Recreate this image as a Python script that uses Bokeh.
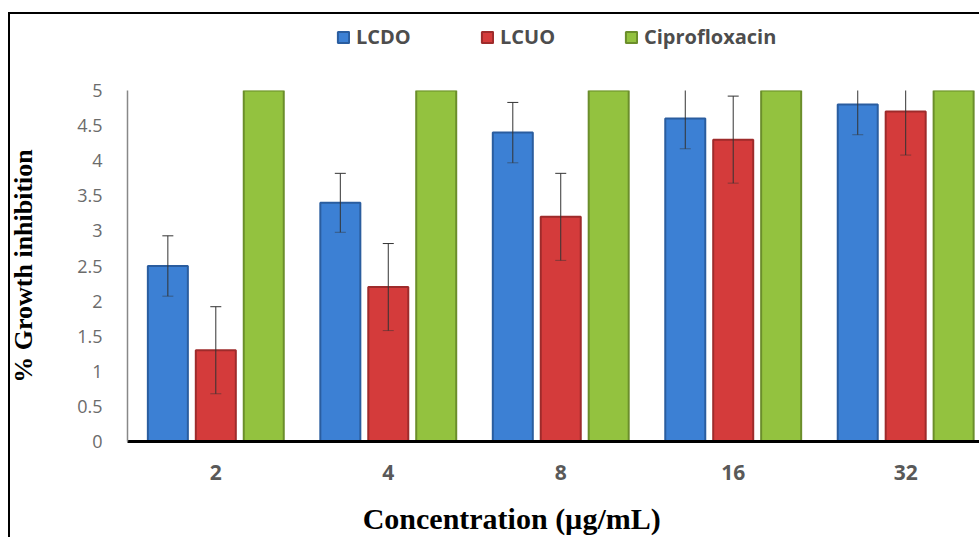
import numpy as np
from bokeh.plotting import figure
from bokeh.layouts import column
from bokeh.models import (ColumnDataSource, Range1d, FixedTicker, Legend, LegendItem,
                          Label, InlineStyleSheet, NumeralTickFormatter)
from bokeh.embed import file_html
from bokeh.resources import INLINE

# ---- data ----
concentrations = ["2", "4", "8", "16", "32"]
lcdo = [2.5, 3.4, 4.4, 4.6, 4.8]
lcdo_err = [0.43, 0.42, 0.43, 0.43, 0.43]
lcuo = [1.3, 2.2, 3.2, 4.3, 4.7]
lcuo_err = [0.62, 0.62, 0.62, 0.62, 0.62]
cipro = [5, 5, 5, 5, 5]
series_names = ["LCDO", "LCUO", "Ciprofloxacin"]
y_ticks = [0, 0.5, 1, 1.5, 2, 2.5, 3, 3.5, 4, 4.5, 5]
x_title = "Concentration (\u00b5g/mL)"
y_title = "% Growth inhibition"

# ---- styling ----
fills = ["#3c80d4", "#d43b3b", "#93c23f"]
edges = ["#2a5d9f", "#9e2b2b", "#6b8e2b"]
offsets = [-0.278, 0.0, 0.278]
bar_w = 0.232

centers = np.arange(len(concentrations)) + 0.5


def strip(height):
    f = figure(width=979, height=height, output_backend="svg", toolbar_location=None,
               x_range=Range1d(0, 1), y_range=Range1d(0, 1),
               x_axis_type=None, y_axis_type=None, min_border=0)
    f.border_fill_color = None
    f.background_fill_color = None
    f.outline_line_color = None
    f.xgrid.visible = False
    f.ygrid.visible = False
    return f


# ---- legend strip (top) ----
lf = strip(70)
# legend keys only: placeholder renderers that draw nothing (NaN data)
key_renderers = [lf.vbar(x=[np.nan], top=[np.nan], bottom=[np.nan], width=0.1,
                         fill_color=fills[k], line_color=edges[k], line_width=2)
                 for k in range(3)]
legend = Legend(items=[LegendItem(label=n, renderers=[r]) for n, r in zip(series_names, key_renderers)],
                orientation="horizontal", location=(209, 20), padding=0, spacing=0, margin=0,
                label_width=124, label_standoff=6, glyph_width=14, glyph_height=14,
                border_line_color=None, background_fill_alpha=0,
                label_text_font="Open Sans", label_text_font_style="bold",
                label_text_font_size="20px", label_text_color="#4d4d4d")
lf.add_layout(legend)

# ---- main chart ----
p = figure(width=979, height=421, output_backend="svg", toolbar_location=None,
           x_range=Range1d(-0.012, 4.928), y_range=Range1d(0, 5),
           min_border_left=127, min_border_right=0, min_border_top=20, min_border_bottom=50)
p.border_fill_color = None
p.background_fill_color = "white"
p.outline_line_color = None
p.xgrid.visible = False
p.ygrid.visible = False

values = [lcdo, lcuo, cipro]
errors = [lcdo_err, lcuo_err, None]
for k, (vals, err) in enumerate(zip(values, errors)):
    xs = centers + offsets[k]
    data = dict(x=xs, top=vals)
    if err is not None:
        data["upper"] = np.array(vals) + np.array(err)
        data["lower"] = np.array(vals) - np.array(err)
    src = ColumnDataSource(data)
    p.vbar(x="x", top="top", bottom=0, width=bar_w, source=src,
           fill_color=fills[k], line_color=edges[k], line_width=2)
    if err is not None:
        p.segment(x0="x", y0="lower", x1="x", y1="upper", source=src,
                  line_color="#333333", line_width=1)
        p.dash(x="x", y="upper", size=11, source=src, line_color="#333333", line_width=1)
        p.dash(x="x", y="lower", size=11, source=src, line_color="#333333", line_width=1,
               line_alpha=0.5)

xa = p.xaxis[0]
xa.ticker = FixedTicker(ticks=list(centers))
xa.major_label_overrides = {float(c): lab for c, lab in zip(centers, concentrations)}
xa.axis_line_color = "black"
xa.axis_line_width = 3
xa.major_tick_line_color = None
xa.minor_tick_line_color = None
xa.major_label_standoff = 17
xa.major_label_text_font = "Open Sans"
xa.major_label_text_font_size = "21px"
xa.major_label_text_font_style = "bold"
xa.major_label_text_color = "#595959"

ya = p.yaxis[0]
ya.ticker = FixedTicker(ticks=y_ticks)
ya.formatter = NumeralTickFormatter(format="0.[0]")
ya.axis_line_color = "#888888"
ya.axis_line_width = 1.5
ya.major_tick_line_color = None
ya.minor_tick_line_color = None
ya.major_label_standoff = 19
ya.major_label_text_font = "Open Sans"
ya.major_label_text_font_size = "18px"
ya.major_label_text_color = "#6b6b6b"
ya.axis_label = y_title
ya.axis_label_text_font = "Liberation Serif"
ya.axis_label_text_font_size = "26px"
ya.axis_label_text_font_style = "bold"
ya.axis_label_text_color = "black"
ya.axis_label_standoff = 36

# ---- x-title strip (bottom) ----
tf = strip(46)
tf.add_layout(Label(x=0.276, y=0.42, text=x_title, text_align="left", text_baseline="middle",
                    text_font="Liberation Serif", text_font_size="30px",
                    text_font_style="bold", text_color="black"))

layout = column(lf, p, tf, spacing=0)
layout.stylesheets = [InlineStyleSheet(css=(
    ":host { background: "
    "linear-gradient(#000,#000) no-repeat 8px 12px / 100% 2px, "
    "linear-gradient(#000,#000) no-repeat 8px 12px / 2px 100%, white; }"))]

open("out.html", "w").write(file_html(layout, INLINE))
